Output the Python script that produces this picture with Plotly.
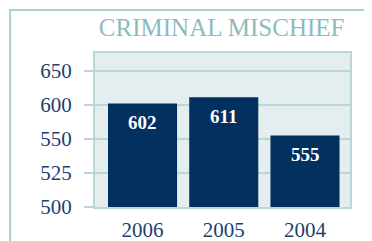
import numpy as np
import plotly.graph_objects as go

years = ["2006", "2005", "2004"]
values = [602, 611, 555]
tick_labels = [500, 525, 550, 600, 650]

# The original chart uses evenly spaced (non-linear) gridlines; map values onto that scale
tick_pos = list(range(len(tick_labels)))
ypos = np.interp(values, tick_labels, tick_pos)

navy = "#02305f"
teal = "#b9d7d9"
label_col = "#1d3f70"

fig = go.Figure()
fig.add_trace(go.Bar(
    x=years, y=ypos, width=0.85,
    marker=dict(color=navy, line=dict(width=0)),
    customdata=values, hovertemplate="%{x}: %{customdata}<extra></extra>",
))

for i, (v, p) in enumerate(zip(values, ypos)):
    fig.add_annotation(x=i, y=p, text=str(v), showarrow=False, yanchor="top", yshift=-7,
                       font=dict(family="Liberation Serif", size=19, color="white", weight="bold"))

fig.update_layout(
    width=364, height=241,
    margin=dict(l=87, r=22, t=45, b=42),
    paper_bgcolor="white", plot_bgcolor="#e4eeef",
    showlegend=False,
    title=dict(text="CRIMINAL MISCHIEF", xref="container", x=0.587, xanchor="center",
               yref="container", y=1 - 19 / 241, yanchor="middle",
               font=dict(family="Liberation Serif", size=25, color="#8cbbbe")),
    xaxis=dict(type="category", range=[-0.585, 2.554], showgrid=False, automargin=False,
               tickfont=dict(family="Liberation Serif", size=21, color=label_col),
               ticks="", ticklabelstandoff=3, showline=True, linecolor=teal, linewidth=2, mirror=True),
    yaxis=dict(range=[0, 4.52], tickvals=tick_pos, ticktext=[str(t) for t in tick_labels],
               showgrid=True, gridcolor=teal, gridwidth=2, zeroline=False, automargin=False,
               ticks="outside", ticklen=9, tickwidth=2, tickcolor=teal, ticklabelstandoff=8,
               tickfont=dict(family="Liberation Serif", size=21, color=label_col),
               showline=True, linecolor=teal, linewidth=2, mirror=True),
    shapes=[dict(type="rect", xref="paper", yref="paper", x0=-0.333, x1=1.3, y0=-0.5, y1=1.279,
                 line=dict(color="#a9cfd3", width=2), fillcolor="rgba(0,0,0,0)", layer="below")],
)

fig.write_html("out.html")
